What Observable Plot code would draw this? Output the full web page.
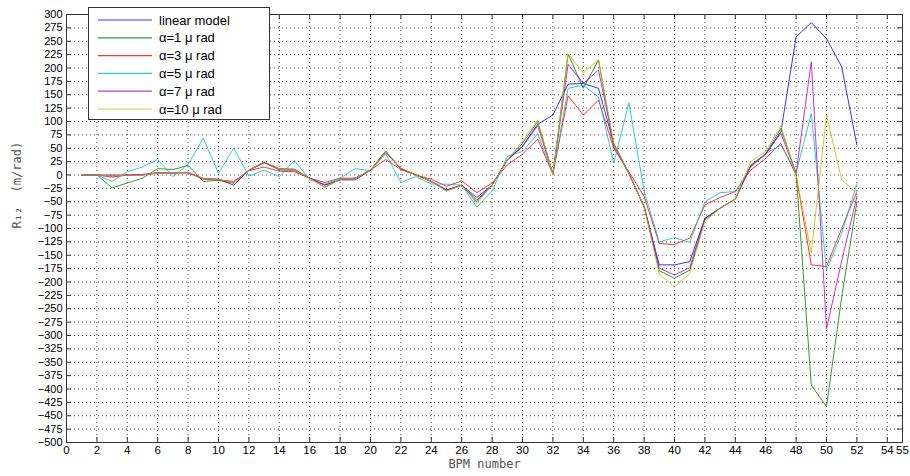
<!DOCTYPE html>
<html><head><meta charset="utf-8">
<script src="https://cdn.jsdelivr.net/npm/d3@7"></script>
<script src="https://cdn.jsdelivr.net/npm/@observablehq/plot@0.6"></script>
<style>
body{margin:0;background:#fff;}
#wrap{position:relative;width:910px;height:476px;}
#legend{position:absolute;left:88px;top:7px;}
</style></head><body><div id="wrap"></div>
<script>
const bpm = [1,2,3,4,5,6,7,8,9,10,11,12,13,14,15,16,17,18,19,20,21,22,23,24,25,26,27,28,29,30,31,32,33,34,35,36,37,38,39,40,41,42,43,44,45,46,47,48,49,50,51,52];
const linearModel = [0,0,-2,0,1,4,4,5,-7,-8,-19,9,23,10,9,-6,-19,-9,-9,9,44,12,0,-12,-28,-19,-42,-19,28,54,95,112,170,171,162,59,3,-59,-168,-168,-162,-81,-62,-45,16,39,81,258,285,255,202,56];
const alpha1 = [0,0,-24,-15,-6,12,10,18,-12,-10,-15,9,24,12,11,-6,-23,-8,-6,9,45,12,0,-12,-30,-19,-50,-19,28,59,100,2,226,162,215,53,3,-59,-179,-193,-178,-84,-62,-45,18,40,87,3,-393,-433,-228,-50];
const alpha3 = [0,0,-4,0,0,4,4,4,-6,-9,-12,8,15,7,6,-6,-14,-6,-6,9,29,10,0,-8,-21,-11,-33,-15,19,39,67,2,148,112,140,50,6,-40,-128,-130,-118,-56,-42,-31,9,31,59,0,-168,-171,-100,-31];
const alpha5 = [0,0,-12,6,15,29,-3,20,69,3,50,-2,9,-3,27,-9,-17,-6,12,8,40,-14,-3,-17,-17,-19,-60,-30,35,44,77,2,162,168,146,22,135,-30,-125,-117,-126,-50,-33,-31,14,40,56,5,115,-178,-109,-16];
const alpha7 = [0,0,0,0,0,4,4,4,-8,-8,-15,9,24,10,9,-6,-19,-9,-6,9,42,12,0,-12,-28,-19,-47,-19,28,53,92,2,207,171,196,59,3,-59,-174,-187,-173,-81,-62,-45,16,39,78,3,212,-287,-161,-40];
const alpha10 = [0,0,-2,0,0,4,4,5,-7,-8,-15,9,25,11,9,-6,-23,-8,-6,9,44,13,0,-12,-30,-19,-53,-19,28,64,103,0,227,191,216,59,3,-59,-185,-209,-184,-87,-62,-45,25,44,92,0,-146,112,-9,-34];

const seriesNames = ["linear model","α=1 μ rad","α=3 μ rad","α=5 μ rad","α=7 μ rad","α=10 μ rad"];
const seriesColors = ["#0000ff","#008000","#ff0000","#00bfbf","#bf00bf","#bfbf00"];
const seriesValues = [linearModel, alpha1, alpha3, alpha5, alpha7, alpha10];

const xTicks = [0,2,4,6,8,10,12,14,16,18,20,22,24,26,28,30,32,34,36,38,40,42,44,46,48,50,52,54,55];
const yTicks = [-500,-475,-450,-425,-400,-375,-350,-325,-300,-275,-250,-225,-200,-175,-150,-125,-100,-75,-50,-25,0,25,50,75,100,125,150,175,200,225,250,275,300];

const rows = [];
seriesNames.forEach((name, i) => bpm.forEach((b, j) => rows.push({series: name, bpm: b, value: seriesValues[i][j]})));

const W = 910, H = 476, mL = 66, mR = 8, mT = 14, mB = 34;
const xDom = [0, 55], yDom = [-500, 300];
const tx = 5 * (xDom[1] - xDom[0]) / (W - mL - mR);
const ty = 5 * (yDom[1] - yDom[0]) / (H - mT - mB);
const gridX = xTicks.filter(d => d > xDom[0] && d < xDom[1]);
const gridY = yTicks.filter(d => d > yDom[0] && d < yDom[1]);

const chart = Plot.plot({
  width: W, height: H,
  marginLeft: mL, marginRight: mR, marginTop: mT, marginBottom: mB,
  style: {fontFamily: "'Liberation Sans', Arial, sans-serif", fontSize: "11px", background: "#fff"},
  x: {domain: xDom},
  y: {domain: yDom},
  color: {domain: seriesNames, range: seriesColors},
  marks: [
    Plot.ruleX(gridX, {stroke: "#000", strokeOpacity: 0.7, strokeDasharray: "1,3"}),
    Plot.ruleY(gridY, {stroke: "#000", strokeOpacity: 0.7, strokeDasharray: "1,3"}),
    Plot.ruleX(xTicks, {y1: yDom[0], y2: yDom[0] + ty, stroke: "#333"}),
    Plot.ruleX(xTicks, {y1: yDom[1], y2: yDom[1] - ty, stroke: "#333"}),
    Plot.ruleY(yTicks, {x1: xDom[0], x2: xDom[0] + tx, stroke: "#333"}),
    Plot.ruleY(yTicks, {x1: xDom[1], x2: xDom[1] - tx, stroke: "#333"}),
    Plot.line(rows, {x: "bpm", y: "value", z: "series", stroke: "series", strokeWidth: 1, strokeOpacity: 0.8}),
    Plot.frame({stroke: "#333"}),
    Plot.axisX(xTicks, {tickSize: 0, tickPadding: 3, label: null, tickFormat: d => String(d), fill: "#000", fontSize: 11.5}),
    Plot.axisY(yTicks, {tickSize: 0, tickPadding: 4, label: null, fill: "#000"}),
    Plot.text(["BPM number"], {frameAnchor: "bottom", dy: 25, fontFamily: "'DejaVu Sans Mono', monospace", fontSize: 12, fill: "#555"}),
    Plot.text(["R₁₂  (m/rad)"], {frameAnchor: "left", dx: -49, rotate: -90, fontFamily: "'DejaVu Sans Mono', monospace", fontSize: 12, fill: "#555"})
  ]
});
const wrap = document.getElementById("wrap");
wrap.appendChild(chart);

// legend box
const leg = d3.select(wrap).append("div").attr("id", "legend")
  .append("svg").attr("width", 182).attr("height", 113);
leg.append("rect").attr("x", 0.5).attr("y", 0.5).attr("width", 181).attr("height", 112)
  .attr("fill", "#fff").attr("stroke", "#333");
seriesNames.forEach((name, i) => {
  const cy = 13 + i * 17.8;
  leg.append("line").attr("x1", 10).attr("x2", 64).attr("y1", cy).attr("y2", cy)
    .attr("stroke", seriesColors[i]).attr("stroke-width", 1.2).attr("stroke-opacity", 0.8);
  leg.append("text").attr("x", 71).attr("y", cy).attr("dy", "0.35em")
    .attr("font-family", "'Liberation Sans', Arial, sans-serif").attr("font-size", 13)
    .attr("fill", "#000").text(name);
});
</script></body></html>
